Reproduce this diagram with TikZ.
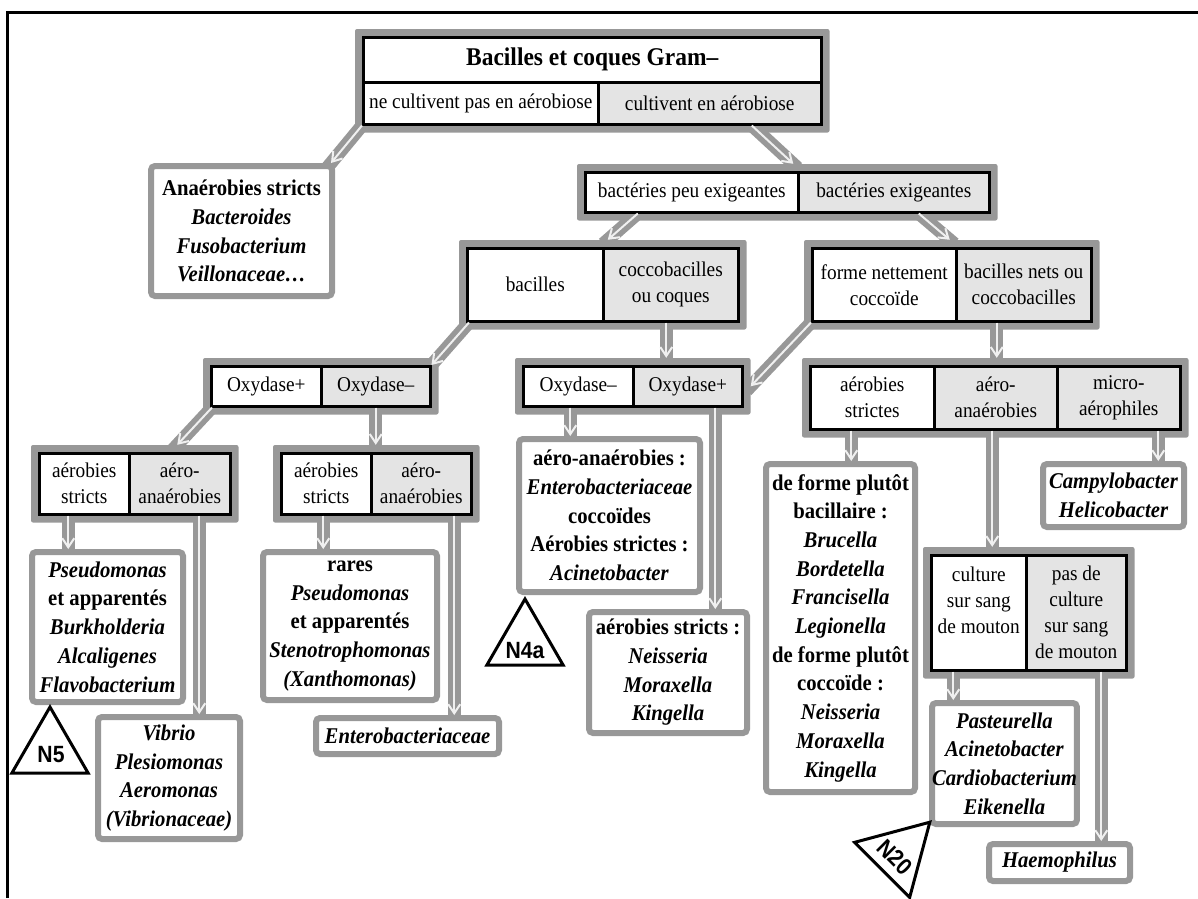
\documentclass[tikz,border=0pt]{standalone}
\usepackage{fontspec}
\setmainfont{Liberation Serif}[FakeStretch=0.92]
\newfontfamily\trisans{Liberation Sans}[FakeStretch=0.9]
\usetikzlibrary{arrows.meta,shapes.geometric,fit,calc,backgrounds}
\definecolor{halogray}{RGB}{152,152,152}
\definecolor{cellgray}{RGB}{228,228,228}
\definecolor{linkgray}{RGB}{240,240,240}

\begin{document}
\begin{tikzpicture}[x=1pt,y=-1pt,
    cell/.style={draw,line width=2.5pt,anchor=north west,inner sep=0pt,align=center,
      font=\fontsize{21}{26}\selectfont},
    whitecell/.style={cell,fill=white},
    graycell/.style={cell,fill=cellgray},
    halo/.style={fill=halogray,inner sep=7pt,rounded corners=2pt},
    leaf/.style={draw=halogray,line width=6pt,rounded corners=4pt,fill=white,anchor=north west,
      inner sep=0pt,align=center,font=\fontsize{22.5}{28.7}\selectfont\bfseries},
    band/.style={draw=halogray,line width=13pt,shorten <=-6pt,shorten >=-6pt},
    arrowline/.style={draw=linkgray,line width=2pt,-{Straight Barb[length=9pt,width=12pt]}},
    tri/.style={draw,line width=3pt,fill=white,regular polygon,regular polygon sides=3,
      minimum size=88pt,inner sep=0pt},
    trilabel/.style={font=\fontsize{23.5}{24}\trisans\bfseries}]
  \useasboundingbox (0,0) rectangle (1198,898);
  \draw[line width=3pt] (7,898) -- (7,12) -- (1198,12);

  % split boxes
  \node[whitecell,minimum width=458,minimum height=45,font=\fontsize{25.5}{26}\selectfont\bfseries]
    (title) at (362,36) {Bacilles et coques Gram–};
  \node[whitecell,minimum width=235,minimum height=42] (nepas) at (362,81) {ne cultivent pas en aérobiose};
  \node[graycell,minimum width=223,minimum height=42] (cult) at (597,81) {cultivent en aérobiose};

  \node[whitecell,minimum width=213,minimum height=40] (peu) at (584,171) {bactéries peu exigeantes};
  \node[graycell,minimum width=191,minimum height=40] (exig) at (797,171) {bactéries exigeantes};

  \node[whitecell,minimum width=136,minimum height=73] (bac) at (466,247) {bacilles};
  \node[graycell,minimum width=135,minimum height=73] (cocco) at (602,247) {coccobacilles\\ou coques};
  \node[whitecell,minimum width=144,minimum height=73] (forme) at (811,247) {forme nettement\\coccoïde};
  \node[graycell,minimum width=135,minimum height=73] (bnets) at (955,247) {bacilles nets ou\\coccobacilles};

  \node[whitecell,minimum width=110,minimum height=40] (oxp) at (210,365) {Oxydase+};
  \node[graycell,minimum width=109,minimum height=40] (oxm) at (320,365) {Oxydase–};
  \node[whitecell,minimum width=110,minimum height=40] (oxmb) at (522,365) {Oxydase–};
  \node[graycell,minimum width=109,minimum height=40] (oxpb) at (632,365) {Oxydase+};

  \node[whitecell,minimum width=124,minimum height=63] (strictes) at (809,365) {aérobies\\strictes};
  \node[graycell,minimum width=123,minimum height=63] (aeroana) at (933,365) {aéro-\\anaérobies};
  \node[graycell,minimum width=123,minimum height=63] (micro) at (1056,365) {micro-\\aérophiles};

  \node[whitecell,minimum width=90,minimum height=61] (strA) at (38,452) {aérobies\\stricts};
  \node[graycell,minimum width=101,minimum height=61] (anaA) at (128,452) {aéro-\\anaérobies};
  \node[whitecell,minimum width=90,minimum height=61] (strB) at (280,452) {aérobies\\stricts};
  \node[graycell,minimum width=100,minimum height=61] (anaB) at (370,452) {aéro-\\anaérobies};

  \node[whitecell,minimum width=95,minimum height=115] (sang) at (930,554) {culture\\sur sang\\de mouton\\\mbox{}};
  \node[graycell,minimum width=100,minimum height=115] (nosang) at (1025,554) {pas de\\culture\\sur sang\\de mouton};

  % result boxes
  \node[leaf,minimum width=181,minimum height=130] (anaer) at (148,163)
    {Anaérobies stricts\\\textit{Bacteroides}\\\textit{Fusobacterium}\\\textit{Veillonaceae…}};
  \node[leaf,minimum width=151,minimum height=150] (pseudo) at (29,549)
    {\textit{Pseudomonas}\\et apparentés\\\textit{Burkholderia}\\\textit{Alcaligenes}\\\textit{Flavobacterium}};
  \node[leaf,minimum width=142,minimum height=122] (vibrio) at (95,714)
    {\textit{Vibrio}\\\textit{Plesiomonas}\\\textit{Aeromonas}\\\textit{(Vibrionaceae)}};
  \node[leaf,minimum width=174,minimum height=148] (rares) at (260,549)
    {rares\\\textit{Pseudomonas}\\et apparentés\\\textit{Stenotrophomonas}\\\textit{(Xanthomonas)}};
  \node[leaf,minimum width=183,minimum height=36] (entero) at (313,715) {\textit{Enterobacteriaceae}};
  \node[leaf,minimum width=181,minimum height=153] (coccoi) at (516,436)
    {aéro-anaérobies :\\\textit{Enterobacteriaceae}\\coccoïdes\\Aérobies strictes :\\\textit{Acinetobacter}};
  \node[leaf,minimum width=158,minimum height=121] (neiss) at (586,609)
    {aérobies stricts :\\\textit{Neisseria}\\\textit{Moraxella}\\\textit{Kingella}};
  \node[leaf,minimum width=149,minimum height=328] (plutot) at (763,461)
    {de forme plutôt\\bacillaire :\\\textit{Brucella}\\\textit{Bordetella}\\\textit{Francisella}\\\textit{Legionella}\\
     de forme plutôt\\coccoïde :\\\textit{Neisseria}\\\textit{Moraxella}\\\textit{Kingella}};
  \node[leaf,minimum width=141,minimum height=63] (campy) at (1040,461) {\textit{Campylobacter}\\\textit{Helicobacter}};
  \node[leaf,minimum width=143,minimum height=121] (pasteur) at (929,700)
    {\textit{Pasteurella}\\\textit{Acinetobacter}\\\textit{Cardiobacterium}\\\textit{Eikenella}};
  \node[leaf,minimum width=141,minimum height=37] (haemo) at (986,841) {\textit{Haemophilus}};

  % triangles
  \node[tri] (n5) at (50,751) {};
  \node[trilabel] (n5t) at (51,755) {N5};
  \node[tri] (n4a) at (525,643) {};
  \node[trilabel] (n4at) at (525,651) {N4a};
  \node[tri,rotate=-45,minimum size=90pt] (n20) at (898,854) {};
  \node[trilabel,rotate=-45] (n20t) at (895,857) {N20};

  \begin{scope}[on background layer]
    \node[halo,fit=(title)(nepas)(cult)] (topH) {};
    \node[halo,fit=(peu)(exig)] (bactH) {};
    \node[halo,fit=(bac)(cocco)] (bacH) {};
    \node[halo,fit=(forme)(bnets)] (formeH) {};
    \node[halo,fit=(oxp)(oxm)] (oxH) {};
    \node[halo,fit=(oxmb)(oxpb)] (oxbH) {};
    \node[halo,fit=(strictes)(micro)] (respH) {};
    \node[halo,fit=(strA)(anaA)] (l5aH) {};
    \node[halo,fit=(strB)(anaB)] (l5bH) {};
    \node[halo,fit=(sang)(nosang)] (sangH) {};
  \end{scope}

  % slanted arrows
  \foreach \a/\ax/\b/\bx in {nepas.south west/0/anaer.north east/-4, cult.south/42/bactH.north/6,
      peu.south/-54/bacH.north/5, exig.south/25/formeH.north/-2, bac.south west/3/oxm.north east/0,
      forme.south west/0/oxbH.east/0, oxp.south west/2/l5aH.north/42.5}
  {
    \begin{pgfonlayer}{background}
      \draw[band] ($(\a)+(\ax,0)$) -- ($(\b)+(\bx,0)$);
    \end{pgfonlayer}
    \draw[arrowline] ($(\a)+(\ax,0)$) -- ($(\b)+(\bx,0)$);
  }
  % straight down arrows
  \foreach \s/\dx/\t in {cocco/-4.5/oxbH, bnets/-27/respH, oxm/0/l5bH, strA/-16/pseudo,
      anaA/19.5/vibrio, strB/-3/rares, anaB/33/entero, oxmb/-8/coccoi, oxpb/27.5/neiss,
      strictes/-21/plutot, aeroana/-3.5/sangH, micro/39.5/campy, sang/-25.5/pasteur, nosang/25/haemo}
  {
    \begin{pgfonlayer}{background}
      \draw[band] ($(\s.south)+(\dx,0)$) -- ($(\s.south |- \t.north)+(\dx,0)$);
    \end{pgfonlayer}
    \draw[arrowline] ($(\s.south)+(\dx,0)$) -- ($(\s.south |- \t.north)+(\dx,0)$);
  }
\end{tikzpicture}
\end{document}
